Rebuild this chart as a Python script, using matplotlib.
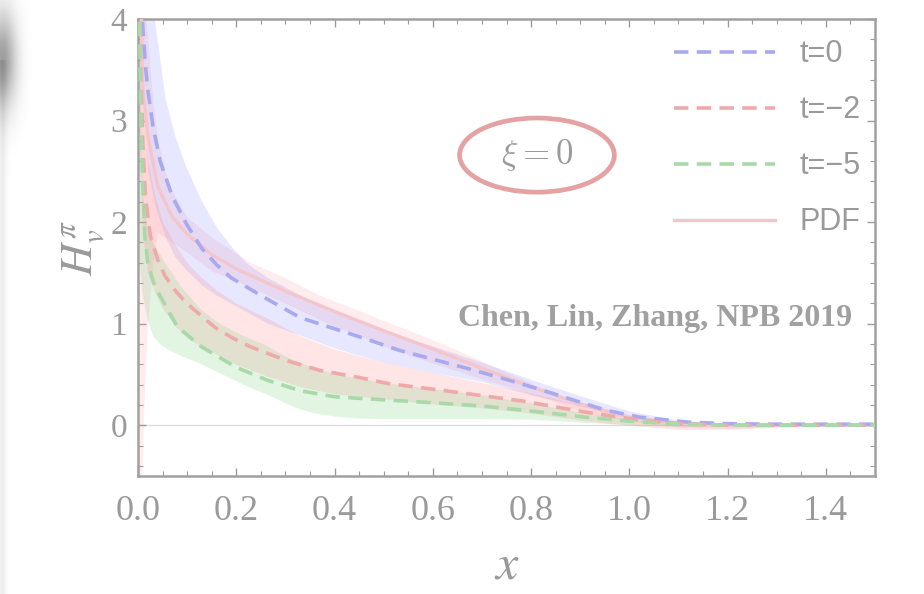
import numpy as np
import matplotlib
matplotlib.use("Agg")
import matplotlib.pyplot as plt
from matplotlib.patches import Ellipse
from matplotlib.ticker import MultipleLocator

# t = 0
x_t0 = [0.006, 0.01, 0.015, 0.02, 0.03, 0.045, 0.07, 0.1, 0.13, 0.16, 0.19, 0.26, 0.33, 0.4,
        0.47, 0.53, 0.6, 0.67, 0.75, 0.82, 0.885, 0.95, 1.02, 1.12, 1.2, 1.3, 1.5]
y_t0 = [4.3, 3.9, 3.55, 3.3, 2.96, 2.6, 2.25, 1.97, 1.74, 1.58, 1.45, 1.25, 1.06, 0.95,
        0.84, 0.74, 0.65, 0.56, 0.45, 0.35, 0.25, 0.15, 0.08, 0.03, 0.015, 0.01, 0.01]
xb_t0 = [0.004, 0.02, 0.035, 0.055, 0.075, 0.096, 0.13, 0.16, 0.19, 0.22, 0.265, 0.3, 0.35,
         0.4, 0.5, 0.6, 0.7, 0.8, 0.9, 1.0, 1.1, 1.2, 1.5]
hi_t0 = [4.6, 4.3, 3.94, 3.22, 2.85, 2.56, 2.2, 1.95, 1.76, 1.6, 1.45, 1.36, 1.23,
         1.12, 0.93, 0.78, 0.62, 0.45, 0.29, 0.14, 0.05, 0.02, 0.02]
lo_t0 = [4.0, 2.5, 2.15, 1.86, 1.66, 1.54, 1.38, 1.28, 1.2, 1.12, 1.0, 0.94, 0.85,
         0.76, 0.62, 0.52, 0.43, 0.3, 0.19, 0.07, 0.01, 0.0, 0.0]

# t = -2
x_t2 = [0.003, 0.006, 0.01, 0.015, 0.025, 0.04, 0.055, 0.075, 0.095, 0.116, 0.14, 0.163, 0.2,
        0.23, 0.3, 0.37, 0.45, 0.51, 0.64, 0.78, 0.91, 1.02, 1.1, 1.2, 1.5]
y_t2 = [4.2, 3.4, 2.75, 2.25, 1.87, 1.63, 1.47, 1.33, 1.22, 1.13, 1.03, 0.94, 0.84,
        0.77, 0.64, 0.54, 0.47, 0.41, 0.33, 0.24, 0.13, 0.05, 0.015, 0.0, 0.0]
xb_t2 = [0.003, 0.01, 0.02, 0.035, 0.05, 0.075, 0.1, 0.13, 0.16, 0.2, 0.265, 0.33, 0.4, 0.5,
         0.6, 0.7, 0.8, 0.9, 1.0, 1.1, 1.2, 1.3, 1.5]
hi_t2 = [4.5, 3.2, 2.6, 2.25, 2.0, 1.78, 1.6, 1.45, 1.33, 1.2, 1.05, 0.88, 0.75, 0.62,
         0.52, 0.42, 0.32, 0.2, 0.08, 0.02, 0.0, 0.0, 0.0]
lo_t2 = [2.8, 1.85, 1.5, 1.3, 1.15, 0.98, 0.86, 0.77, 0.7, 0.6, 0.48, 0.38, 0.31, 0.26,
         0.21, 0.17, 0.12, 0.05, 0.0, -0.04, -0.04, -0.02, -0.01]

# t = -5
x_t5 = [0.003, 0.005, 0.008, 0.014, 0.02, 0.028, 0.035, 0.05, 0.08, 0.13, 0.2, 0.265, 0.33,
        0.4, 0.5, 0.57, 0.7, 0.78, 0.91, 1.0, 1.1, 1.2, 1.5]
y_t5 = [4.2, 3.2, 2.6, 1.85, 1.6, 1.46, 1.36, 1.23, 0.97, 0.77, 0.57, 0.44, 0.34,
        0.28, 0.25, 0.23, 0.19, 0.15, 0.08, 0.04, 0.01, 0.0, 0.0]
xb_t5 = [0.003, 0.006, 0.01, 0.02, 0.03, 0.045, 0.06, 0.09, 0.126, 0.16, 0.19, 0.22, 0.26,
         0.3, 0.33, 0.36, 0.4, 0.45, 0.5, 0.6, 0.7, 0.8, 0.9, 1.0, 1.1, 1.2, 1.5]
hi_t5 = [4.5, 2.8, 2.2, 1.9, 1.8, 1.68, 1.56, 1.35, 1.15, 1.02, 0.94, 0.87, 0.79,
         0.68, 0.62, 0.56, 0.51, 0.46, 0.42, 0.36, 0.3, 0.22, 0.13, 0.06, 0.02, 0.0, 0.0]
lo_t5 = [1.6, 1.4, 1.25, 1.02, 0.88, 0.8, 0.75, 0.68, 0.61, 0.53, 0.46, 0.39, 0.31,
         0.22, 0.16, 0.12, 0.09, 0.07, 0.065, 0.065, 0.065, 0.06, 0.03, 0.005, -0.01, 0.0, 0.0]

# PDF
x_pdf = [0.006, 0.01, 0.02, 0.04, 0.07, 0.1, 0.15, 0.2, 0.3, 0.4, 0.5, 0.6, 0.7, 0.8,
         0.9, 1.0, 1.1, 1.2, 1.5]
y_pdf = [4.2, 3.3, 2.85, 2.35, 2.05, 1.88, 1.68, 1.54, 1.32, 1.12, 0.93, 0.75, 0.56, 0.38,
         0.21, 0.08, 0.02, 0.0, 0.0]
xb_pdf = [0.003, 0.008, 0.012, 0.018, 0.03, 0.04, 0.055, 0.07, 0.1, 0.15, 0.23, 0.3, 0.37,
          0.45, 0.5, 0.57, 0.64, 0.71, 0.78, 0.845, 0.9, 1.0, 1.1, 1.2, 1.3, 1.5]
hi_pdf = [5.0, 4.5, 4.2, 3.9, 3.2, 2.8, 2.5, 2.3, 2.05, 1.85, 1.6, 1.45, 1.28,
          1.13, 1.03, 0.9, 0.76, 0.61, 0.46, 0.31, 0.2, 0.08, 0.02, 0.0, 0.0, 0.0]
lo_pdf = [-0.6, -0.5, 0.2, 0.9, 1.6, 1.9, 1.85, 1.8, 1.7, 1.52, 1.36, 1.2, 1.04,
          0.88, 0.78, 0.66, 0.55, 0.44, 0.34, 0.24, 0.14, 0.04, -0.02, -0.03, -0.01, 0.0]

gray = "#9a9a9a"

plt.rcParams["mathtext.fontset"] = "stix"

fig = plt.figure(figsize=(9.24, 5.94), dpi=100)

# soft shadow at the left edge
bg = fig.add_axes([0, 0, 0.06, 1], zorder=-5)
gx, gy = np.meshgrid(np.linspace(0, 55, 55), np.linspace(0, 594, 594))
blob = 0.38 * np.exp(-((gx - 2) / 14.0) ** 2 - ((gy - 60) / 48.0) ** 2)
stripe = 0.07 * np.exp(-((gx - 2) / 4.0) ** 2) * (gy > 60)
bg.imshow(1 - blob - stripe, cmap="gray", vmin=0, vmax=1, aspect="auto",
          extent=(0, 55, 594, 0), interpolation="bilinear")
bg.axis("off")

ax = fig.add_axes([138 / 924, 1 - 476 / 594, (875 - 138) / 924, (476 - 19) / 594])

ax.axhline(0, color="#dddddd", lw=1.0, zorder=1)

ax.fill_between(xb_pdf, lo_pdf, hi_pdf, color="#ffa0aa", alpha=0.2, lw=0, zorder=2)
ax.fill_between(xb_t0, lo_t0, hi_t0, color="#8a8aff", alpha=0.2, lw=0, zorder=2)
ax.fill_between(xb_t2, lo_t2, hi_t2, color="#ff8a8a", alpha=0.22, lw=0, zorder=2)
ax.fill_between(xb_t5, lo_t5, hi_t5, color="#7fd07f", alpha=0.22, lw=0, zorder=2)

ax.plot(x_t0, y_t0, color="#a9a9f0", lw=2.6, dashes=(4, 2.3), label="t=0", zorder=4)
ax.plot(x_t2, y_t2, color="#eeaaaa", lw=2.6, dashes=(4, 2.3), label="t=\u22122", zorder=4)
ax.plot(x_t5, y_t5, color="#a9d9a9", lw=2.6, dashes=(4, 2.3), label="t=\u22125", zorder=4)
ax.plot(x_pdf, y_pdf, color="#f3c6cc", lw=2.4, label="PDF", zorder=3)

ax.set_xlim(0, 1.5)
ax.set_ylim(-0.5, 4)

ax.xaxis.set_major_locator(MultipleLocator(0.2))
ax.xaxis.set_minor_locator(MultipleLocator(0.05))
ax.yaxis.set_major_locator(MultipleLocator(1))
ax.yaxis.set_minor_locator(MultipleLocator(0.2))
ax.tick_params(which="both", direction="in", top=True, right=True, colors=gray)
ax.tick_params(which="major", length=6, width=1.0)
ax.tick_params(which="minor", length=3.5, width=0.8)
ax.tick_params(axis="x", which="major", pad=14)
ax.tick_params(axis="y", which="major", pad=8)
for lab in ax.get_xticklabels():
    lab.set_fontfamily("Liberation Serif")
    lab.set_fontsize(26)
    lab.set_color(gray)
for lab in ax.get_yticklabels():
    lab.set_fontfamily("Liberation Serif")
    lab.set_fontsize(24)
    lab.set_color(gray)
for s in ax.spines.values():
    s.set_color("#a0a0a0")
    s.set_linewidth(1.8)

ax.set_xlabel("$x$", fontsize=36, color=gray, labelpad=9)
ax.set_ylabel("$H_v^{\\pi}$", fontsize=32, color=gray, labelpad=2)

leg = ax.legend(loc="upper right", bbox_to_anchor=(876 / 924, 1 - 24 / 594),
                bbox_transform=fig.transFigure, frameon=False, borderpad=0,
                handlelength=3.3, handletextpad=0.8, labelspacing=0.85,
                prop={"family": "Liberation Sans", "size": 22})
for txt in leg.get_texts():
    txt.set_color(gray)

ell = Ellipse((0.812, 2.66), 0.315, 0.73, facecolor="none", edgecolor="#e4a2a2",
              lw=3.4, zorder=6)
ax.add_patch(ell)
ax.text(0.812, 2.66, "$\\xi = 0$", math_fontfamily="cm", fontsize=25, color=gray,
        ha="center", va="center", zorder=6)

ax.text(1.052, 1.054, "Chen, Lin, Zhang, NPB 2019", family="Liberation Serif",
        fontweight="bold", fontsize=23, color="#a0a0a0", ha="center", va="center", zorder=6)

fig.savefig("out.png", dpi=100)
